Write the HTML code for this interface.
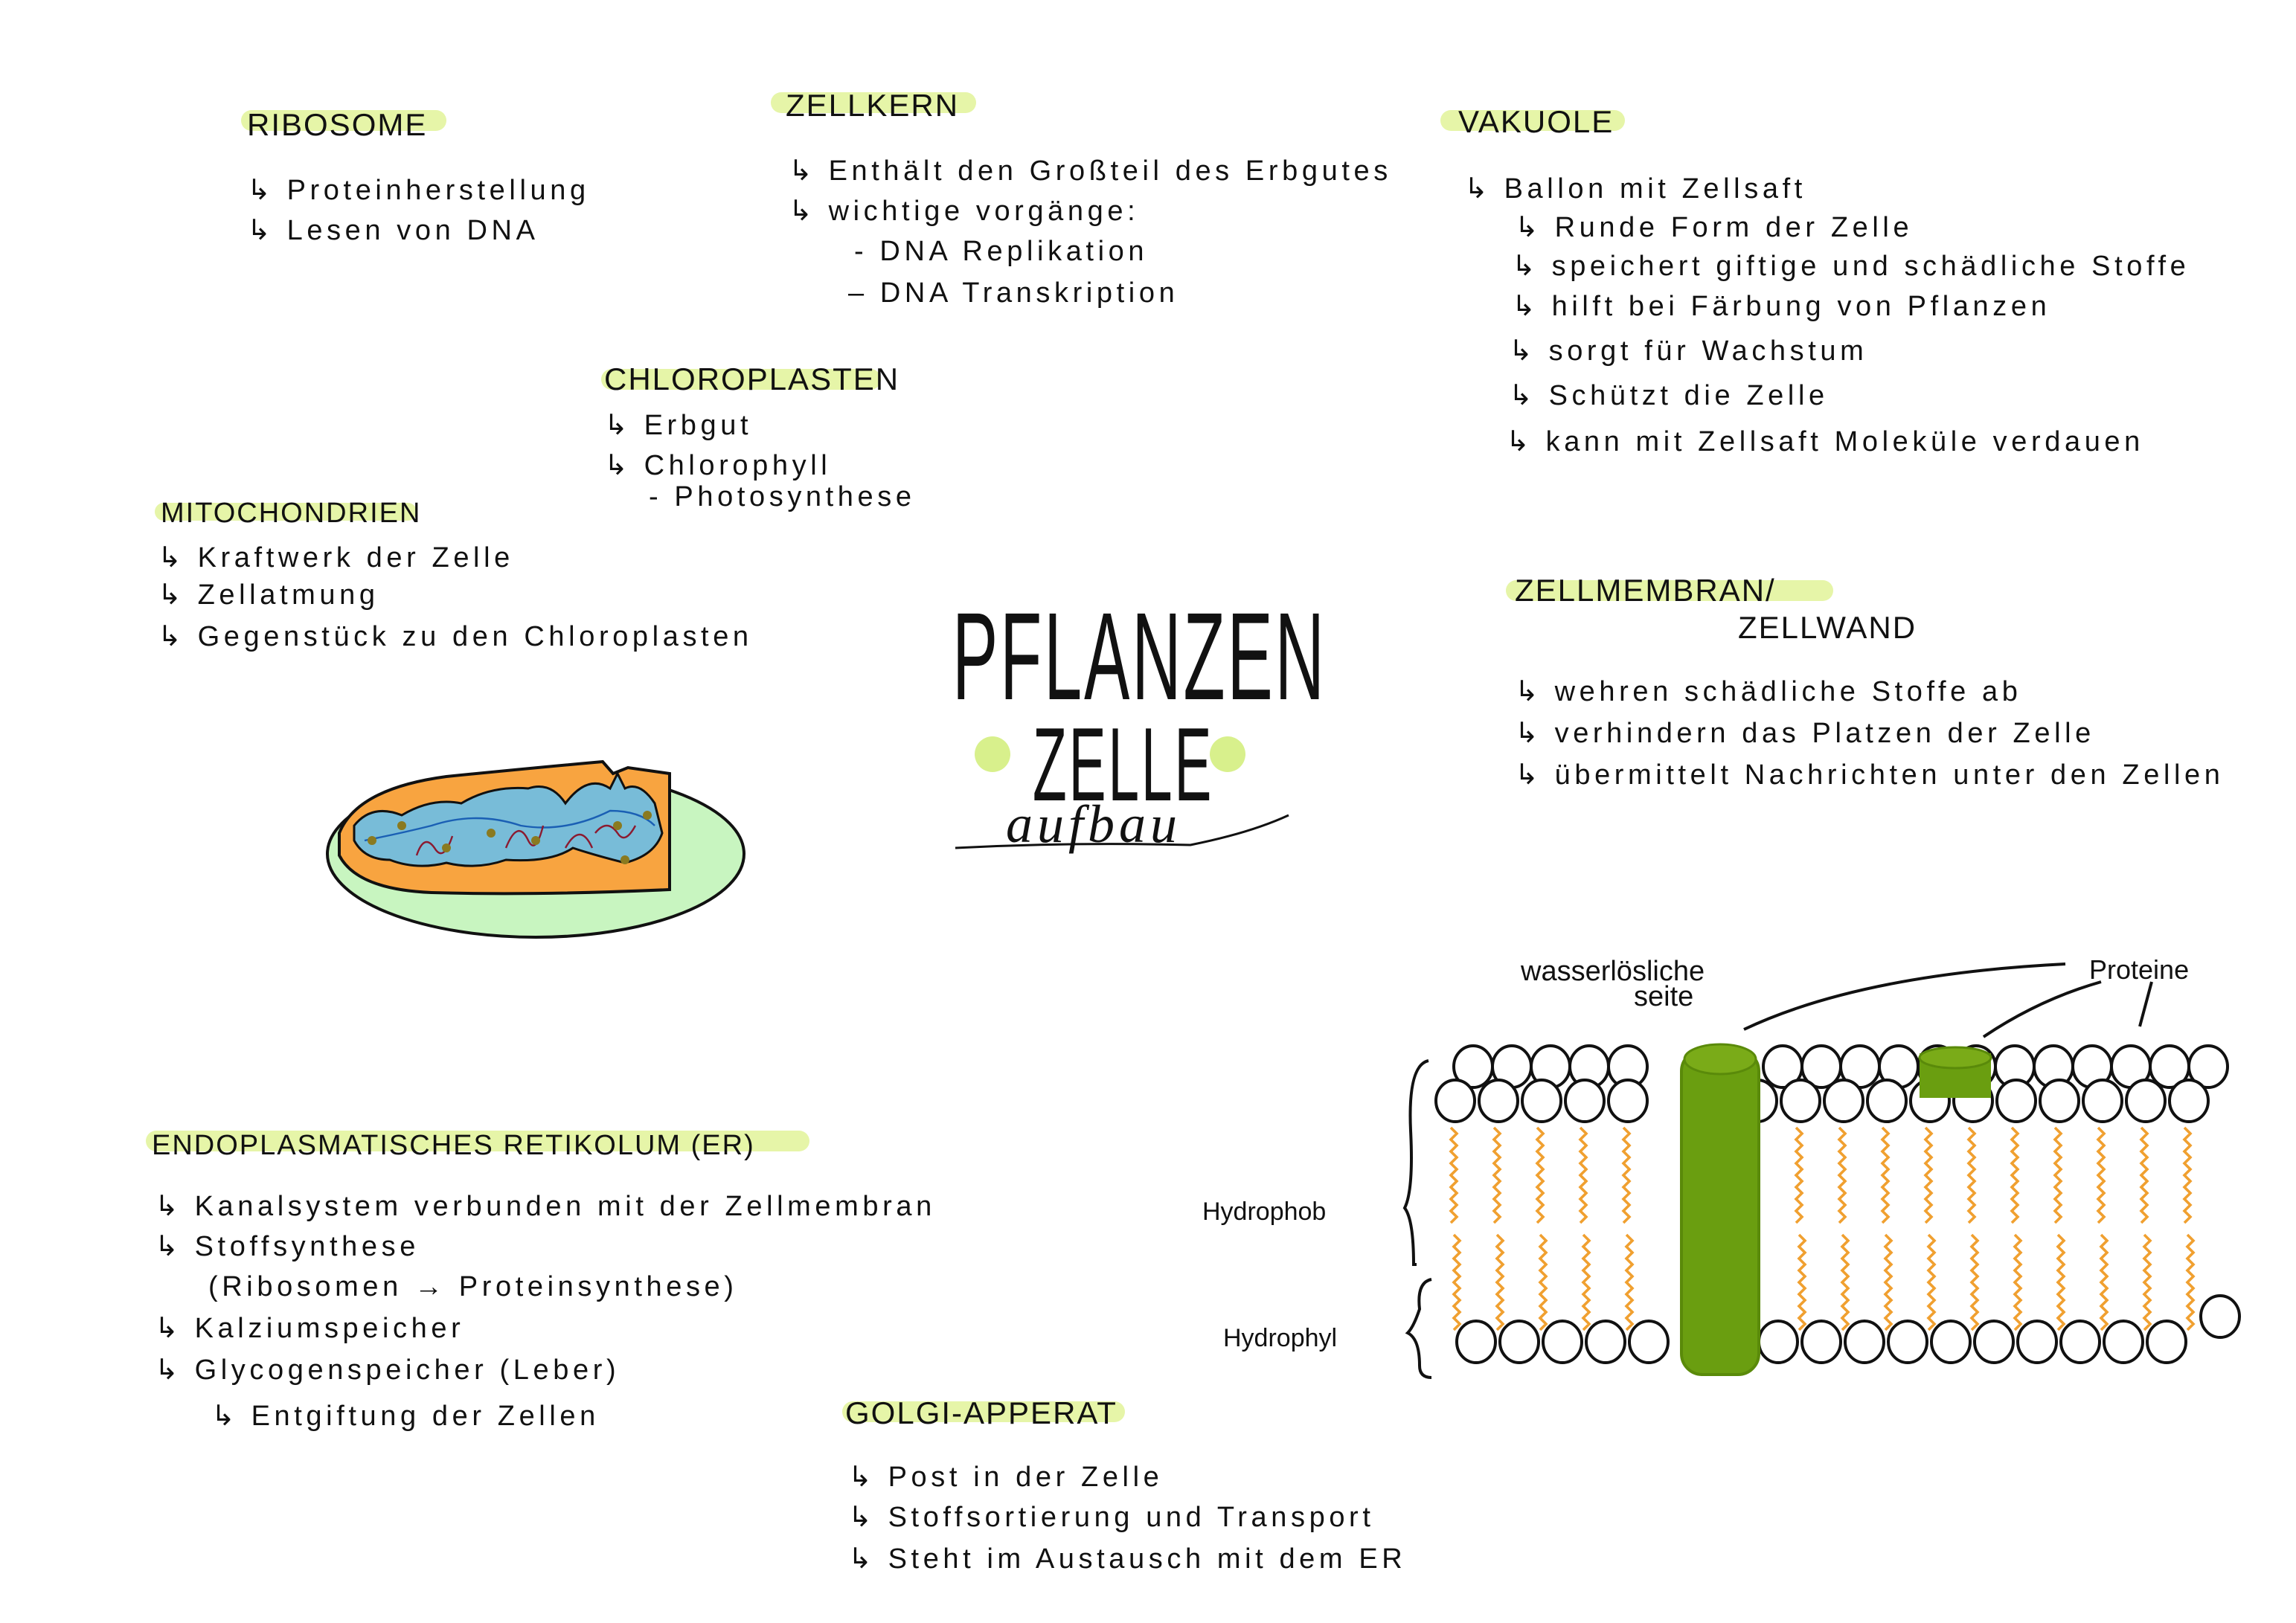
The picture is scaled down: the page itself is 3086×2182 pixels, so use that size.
<!DOCTYPE html>
<html><head><meta charset="utf-8"><style>
html,body{margin:0;padding:0;background:#fff;}
svg{display:block}
text{font-family:"Liberation Sans",sans-serif;fill:#111;}
.h{font-size:21px;letter-spacing:1px;}
.b{font-size:19px;letter-spacing:2.8px;}
</style></head><body>
<svg id="s" width="3086" height="2182" viewBox="0 0 1543 1091" xmlns="http://www.w3.org/2000/svg">
<rect width="1543" height="1091" fill="#fff"/>
<g fill="#e6f5a8">
<rect x="162" y="74" width="138" height="14" rx="7"/>
<rect x="518" y="62" width="138" height="14" rx="7"/>
<rect x="968" y="74" width="124" height="14" rx="7"/>
<rect x="404" y="248" width="188" height="14" rx="7"/>
<rect x="104" y="338" width="176" height="12" rx="6"/>
<rect x="1012" y="390" width="220" height="14" rx="7"/>
<rect x="98" y="760" width="446" height="14" rx="7"/>
<rect x="566" y="942" width="190" height="14" rx="7"/>
</g>
<text class="h" x="166" y="91">RIBOSOME</text>
<text class="b" x="166" y="134">↳ Proteinherstellung</text>
<text class="b" x="166" y="161">↳ Lesen von DNA</text>

<text class="h" x="528" y="78">ZELLKERN</text>
<text class="b" x="530" y="121">↳ Enthält den Großteil des Erbgutes</text>
<text class="b" x="530" y="148">↳ wichtige vorgänge:</text>
<text class="b" x="574" y="175">- DNA Replikation</text>
<text class="b" x="570" y="203">– DNA Transkription</text>

<text class="h" x="980" y="89">VAKUOLE</text>
<text class="b" x="984" y="133">↳ Ballon mit Zellsaft</text>
<text class="b" x="1018" y="159">↳ Runde Form der Zelle</text>
<text class="b" x="1016" y="185">↳ speichert giftige und schädliche Stoffe</text>
<text class="b" x="1016" y="212">↳ hilft bei Färbung von Pflanzen</text>
<text class="b" x="1014" y="242">↳ sorgt für Wachstum</text>
<text class="b" x="1014" y="272">↳ Schützt die Zelle</text>
<text class="b" x="1012" y="303">↳ kann mit Zellsaft Moleküle verdauen</text>

<text class="h" x="406" y="262">CHLOROPLASTEN</text>
<text class="b" x="406" y="292">↳ Erbgut</text>
<text class="b" x="406" y="319">↳ Chlorophyll</text>
<text class="b" x="436" y="340">- Photosynthese</text>

<text class="h" x="108" y="351" style="font-size:19px">MITOCHONDRIEN</text>
<text class="b" x="106" y="381">↳ Kraftwerk der Zelle</text>
<text class="b" x="106" y="406">↳ Zellatmung</text>
<text class="b" x="106" y="434">↳ Gegenstück zu den Chloroplasten</text>

<text x="640" y="470" style="font-size:62px;letter-spacing:2px" transform="translate(640 470) scale(0.74 1.35) translate(-640 -470)">PFLANZEN</text>
<text x="694" y="538" style="font-size:52px;letter-spacing:2px" transform="translate(694 538) scale(0.72 1.35) translate(-694 -538)">ZELLE</text>
<circle cx="667" cy="507" r="12" fill="#d8f08c"/>
<circle cx="825" cy="507" r="12" fill="#d8f08c"/>
<text x="676" y="566" style="font-family:'Liberation Serif',serif;font-style:italic;font-size:36px;letter-spacing:3px">aufbau</text>
<path d="M642 570 Q720 566 800 568 Q840 560 866 548" stroke="#111" stroke-width="1.5" fill="none"/>

<text class="h" x="1018" y="404">ZELLMEMBRAN/</text>
<text class="h" x="1168" y="429">ZELLWAND</text>
<text class="b" x="1018" y="471">↳ wehren schädliche Stoffe ab</text>
<text class="b" x="1018" y="499">↳ verhindern das Platzen der Zelle</text>
<text class="b" x="1018" y="527">↳ übermittelt Nachrichten unter den Zellen</text>

<text class="h" x="102" y="776" style="font-size:19px">ENDOPLASMATISCHES RETIKOLUM (ER)</text>
<text class="b" x="104" y="817">↳ Kanalsystem verbunden mit der Zellmembran</text>
<text class="b" x="104" y="844">↳ Stoffsynthese</text>
<text class="b" x="140" y="871">(Ribosomen → Proteinsynthese)</text>
<text class="b" x="104" y="899">↳ Kalziumspeicher</text>
<text class="b" x="104" y="927">↳ Glycogenspeicher (Leber)</text>
<text class="b" x="142" y="958">↳ Entgiftung der Zellen</text>

<text class="h" x="568" y="957">GOLGI-APPERAT</text>
<text class="b" x="570" y="999">↳ Post in der Zelle</text>
<text class="b" x="570" y="1026">↳ Stoffsortierung und Transport</text>
<text class="b" x="570" y="1054">↳ Steht im Austausch mit dem ER</text>

<!-- mitochondrion -->
<ellipse cx="360" cy="574" rx="140" ry="56" fill="#c8f5c0" stroke="#111" stroke-width="2"/>
<path d="M228 560 Q240 530 300 522 Q360 516 405 512 L412 520 L422 516 L450 520 L450 598 Q360 602 290 600 Q240 598 228 575 Z" fill="#f8a440" stroke="#111" stroke-width="2"/>
<path d="M238 555 Q250 540 270 548 Q290 536 310 540 Q330 528 355 530 Q370 525 380 540 Q395 520 410 530 L415 520 L420 530 Q430 525 440 540 L445 560 Q440 575 420 580 Q400 575 385 570 Q370 580 340 578 Q320 585 300 580 Q280 585 262 578 Q245 578 238 565 Z" fill="#78bcd8" stroke="#111" stroke-width="1.5"/>
<path d="M245 565 Q270 560 290 555 Q320 545 350 555 Q380 560 410 545 Q430 545 440 555" stroke="#1a5fb4" stroke-width="1.2" fill="none"/>
<path d="M280 575 q5 -15 12 -5 q6 10 12 -8 M340 570 q8 -20 15 -5 q5 10 10 -10 M380 570 q10 -18 18 0 M400 560 q8 -10 15 0 q5 8 12 -5" stroke="#8b1a30" stroke-width="1.2" fill="none"/>
<g fill="#8a7a20"><circle cx="270" cy="555" r="3"/><circle cx="300" cy="570" r="3"/><circle cx="330" cy="560" r="3"/><circle cx="360" cy="565" r="3"/><circle cx="415" cy="555" r="3"/><circle cx="435" cy="548" r="3"/><circle cx="420" cy="578" r="3"/><circle cx="250" cy="565" r="3"/></g>

<!-- membrane labels -->
<text x="1022" y="659" style="font-size:19px">wasserlösliche</text>
<text x="1098" y="676" style="font-size:19px">seite</text>
<text x="1404" y="658" style="font-size:18px">Proteine</text>
<path d="M1172 692 Q1250 655 1388 648 M1333 697 Q1370 672 1412 660 M1438 690 L1446 660" stroke="#111" stroke-width="2" fill="none"/>
<text x="808" y="820" style="font-size:17px">Hydrophob</text>
<text x="822" y="905" style="font-size:17px">Hydrophyl</text>
<path d="M960 713 Q946 716 948 760 Q950 800 944 812 Q950 820 950 850 L952 850" stroke="#111" stroke-width="2" fill="none"/>
<path d="M962 860 Q952 862 954 880 Q950 892 946 896 Q954 900 954 918 Q954 926 962 926" stroke="#111" stroke-width="2" fill="none"/>
<g id="mem"></g>
<!-- proteins -->
<rect x="1130" y="706" width="52" height="218" rx="14" fill="#6a9e10" stroke="#5a8a0a" stroke-width="2"/>
<ellipse cx="1156" cy="712" rx="24" ry="10" fill="#7aab18" stroke="#5a8a0a" stroke-width="1.5"/>
<rect x="1290" y="708" width="48" height="30" fill="#6a9e10"/>
<ellipse cx="1314" cy="711" rx="24" ry="7" fill="#7aab18" stroke="#5a8a0a" stroke-width="1.5"/>
</svg>
<script>
var g=document.getElementById('mem'),h='';
function c(x,y){h+='<ellipse cx="'+x+'" cy="'+y+'" rx="13" ry="14" fill="#fff" stroke="#111" stroke-width="2"/>';}
for(var x=990;x<1495;x+=26){if(x>1115&&x<1180)continue;c(x,717);}
for(var x=978;x<1475;x+=29){if(x>1110&&x<1180)continue;c(x,740);}
for(var x=992;x<1475;x+=29){if(x>1110&&x<1185)continue;c(x,902);}
c(1492,885);
function zz(x,y1,y2){var d='M'+x+' '+y1;for(var y=y1;y<y2;y+=8){d+=' l4 4 l-4 4';}h+='<path d="'+d+'" stroke="#f0a030" stroke-width="1.8" fill="none"/>';}
for(var x=975;x<1495;x+=29){if(x>1112&&x<1185)continue;zz(x,758,820);zz(x+2,830,888);}
g.innerHTML=h;
</script>
</body></html>
